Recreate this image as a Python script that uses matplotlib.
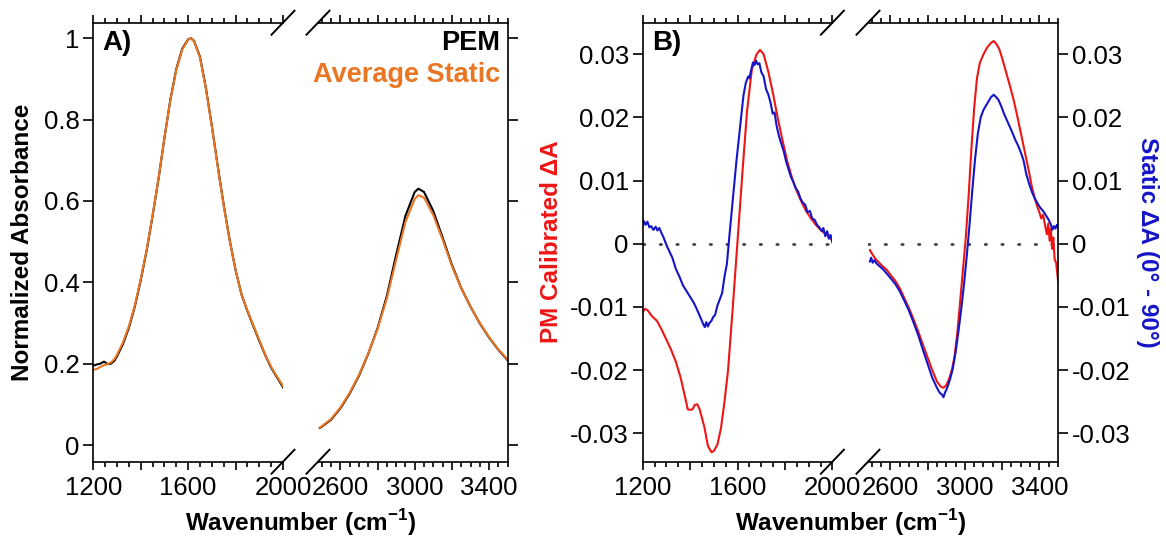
"""Two-panel IR comparison (PEM vs static) with broken wavenumber axes."""

import matplotlib.pyplot as plt
from matplotlib.ticker import FixedLocator, FuncFormatter, MultipleLocator

plt.rcParams["font.family"] = ["Liberation Sans", "DejaVu Sans"]
plt.rcParams["mathtext.fontset"] = "custom"
plt.rcParams["mathtext.rm"] = "Liberation Sans"
plt.rcParams["mathtext.bf"] = "Liberation Sans:bold"

# ---- panel A: normalized absorbance ----
wn_a_low = [1200, 1215, 1230, 1245, 1260, 1275, 1290, 1300, 1325, 1350, 1375, 1400,
            1425, 1450, 1475, 1500, 1525, 1550, 1575, 1600, 1612, 1625, 1650, 1675,
            1700, 1725, 1750, 1775, 1800, 1825, 1850, 1875, 1900, 1925, 1950, 1975, 2000]
static_low = [0.185, 0.187, 0.192, 0.196, 0.199, 0.203, 0.212, 0.222, 0.252, 0.292, 0.343,
              0.408, 0.480, 0.565, 0.655, 0.755, 0.848, 0.922, 0.972, 0.996, 1.000, 0.992,
              0.952, 0.875, 0.782, 0.683, 0.588, 0.503, 0.430, 0.370, 0.330, 0.294, 0.258,
              0.222, 0.192, 0.168, 0.145]
pem_low = [0.195, 0.198, 0.200, 0.205, 0.199, 0.200, 0.208, 0.218, 0.248, 0.288, 0.340,
           0.405, 0.478, 0.563, 0.654, 0.755, 0.849, 0.924, 0.974, 0.997, 1.000, 0.993,
           0.954, 0.877, 0.784, 0.685, 0.590, 0.504, 0.430, 0.370, 0.329, 0.292, 0.256,
           0.221, 0.190, 0.166, 0.142]

wn_a_high = [2490, 2500, 2550, 2600, 2650, 2700, 2750, 2800, 2850, 2900, 2950, 3000,
             3020, 3050, 3100, 3150, 3200, 3250, 3300, 3350, 3400, 3450, 3500]
static_high = [0.043, 0.046, 0.064, 0.092, 0.128, 0.172, 0.225, 0.285, 0.360, 0.455, 0.548,
               0.605, 0.614, 0.608, 0.565, 0.505, 0.440, 0.385, 0.340, 0.300, 0.265, 0.235,
               0.210]
pem_high = [0.042, 0.045, 0.062, 0.090, 0.126, 0.170, 0.224, 0.287, 0.366, 0.467, 0.563,
            0.622, 0.630, 0.622, 0.575, 0.510, 0.443, 0.386, 0.340, 0.299, 0.264, 0.234,
            0.208]

# ---- panel B: difference spectra ----
wn_pm_low = [1200, 1210, 1220, 1240, 1260, 1280, 1300, 1320, 1340, 1360, 1380, 1390, 1400,
             1410, 1420, 1430, 1440, 1460, 1475, 1490, 1500, 1515, 1530, 1545, 1560, 1580,
             1600, 1620, 1640, 1660, 1680, 1695, 1710, 1730, 1750, 1770, 1790, 1810, 1830,
             1850, 1870, 1890, 1910, 1930, 1950, 1970, 1985, 2000]
pm_low = [-0.0108, -0.0103, -0.0105, -0.0115, -0.0122, -0.0136, -0.0152, -0.0168, -0.0187,
          -0.0212, -0.0245, -0.0262, -0.0263, -0.0262, -0.0255, -0.0254, -0.0262, -0.0290,
          -0.0320, -0.0330, -0.0328, -0.0318, -0.0292, -0.0250, -0.0200, -0.0100, 0.0005,
          0.0110, 0.0210, 0.0275, 0.0300, 0.0307, 0.0300, 0.0272, 0.0237, 0.0198, 0.0163,
          0.0130, 0.0104, 0.0083, 0.0066, 0.0051, 0.0040, 0.0030, 0.0022, 0.0016, 0.0012,
          0.0005]

wn_st_low = [1200, 1205, 1212, 1220, 1228, 1236, 1245, 1255, 1262, 1270, 1278, 1288, 1296,
             1305, 1315, 1325, 1340, 1355, 1370, 1385, 1400, 1415, 1430, 1445, 1455, 1462,
             1468, 1475, 1482, 1490, 1497, 1505, 1515, 1525, 1535, 1545, 1555, 1565, 1575,
             1585, 1595, 1605, 1615, 1625, 1635, 1645, 1650, 1658, 1665, 1672, 1678, 1685,
             1692, 1700, 1710, 1720, 1730, 1740, 1748, 1756, 1765, 1775, 1785, 1795, 1805,
             1815, 1825, 1835, 1845, 1855, 1865, 1875, 1885, 1895, 1905, 1915, 1925, 1935,
             1945, 1955, 1962, 1970, 1978, 1985, 1992, 2000]
st_low = [0.0028, 0.0036, 0.0030, 0.0035, 0.0026, 0.0028, 0.0022, 0.0027, 0.0021, 0.0025,
          0.0018, 0.0010, 0.0002, -0.0006, -0.0014, -0.0022, -0.0040, -0.0052, -0.0066,
          -0.0075, -0.0084, -0.0093, -0.0105, -0.0118, -0.0127, -0.0132, -0.0124, -0.0131,
          -0.0125, -0.0122, -0.0116, -0.0113, -0.0098, -0.0088, -0.0078, -0.0052, -0.0032,
          0.0010, 0.0050, 0.0090, 0.0130, 0.0165, 0.0200, 0.0235, 0.0255, 0.0265, 0.0262,
          0.0276, 0.0287, 0.0283, 0.0290, 0.0284, 0.0286, 0.0272, 0.0265, 0.0245, 0.0236,
          0.0222, 0.0206, 0.0208, 0.0186, 0.0170, 0.0158, 0.0146, 0.0130, 0.0118, 0.0106,
          0.0098, 0.0088, 0.0083, 0.0072, 0.0065, 0.0062, 0.0050, 0.0052, 0.0040, 0.0038,
          0.0030, 0.0026, 0.0020, 0.0025, 0.0012, 0.0020, 0.0008, 0.0014, 0.0002]

wn_pm_high = [2490, 2500, 2520, 2540, 2560, 2580, 2600, 2625, 2650, 2675, 2700, 2725, 2750,
              2775, 2800, 2825, 2850, 2870, 2885, 2900, 2915, 2930, 2945, 2960, 2975, 2990,
              3005, 3020, 3035, 3050, 3065, 3080, 3100, 3120, 3140, 3155, 3170, 3185, 3200,
              3220, 3240, 3260, 3280, 3300, 3320, 3340, 3360, 3375, 3390, 3400, 3410, 3420,
              3430, 3440, 3448, 3455, 3462, 3468, 3475, 3482, 3490, 3500]
pm_high = [-0.0010, -0.0015, -0.0024, -0.0030, -0.0036, -0.0041, -0.0049, -0.0058, -0.0070,
           -0.0086, -0.0102, -0.0120, -0.0139, -0.0160, -0.0180, -0.0200, -0.0218, -0.0226,
           -0.0228, -0.0224, -0.0214, -0.0200, -0.0178, -0.0140, -0.0090, -0.0040, 0.0010,
           0.0075, 0.0150, 0.0215, 0.0262, 0.0286, 0.0300, 0.0311, 0.0318, 0.0321, 0.0316,
           0.0308, 0.0294, 0.0273, 0.0252, 0.0230, 0.0204, 0.0176, 0.0148, 0.0120, 0.0090,
           0.0072, 0.0058, 0.0050, 0.0040, 0.0046, 0.0030, 0.0015, 0.0032, 0.0005, 0.0024,
           -0.0008, 0.0010, -0.0025, -0.0030, -0.0058]

wn_st_high = [2490, 2497, 2505, 2515, 2525, 2540, 2560, 2580, 2600, 2625, 2650, 2675, 2700,
              2725, 2750, 2775, 2800, 2825, 2850, 2865, 2878, 2885, 2893, 2905, 2920, 2935,
              2950, 2965, 2980, 2995, 3010, 3025, 3040, 3055, 3070, 3085, 3100, 3120, 3140,
              3155, 3165, 3180, 3195, 3210, 3225, 3240, 3255, 3270, 3285, 3300, 3315, 3330,
              3345, 3360, 3375, 3390, 3405, 3420, 3435, 3450, 3462, 3470, 3478, 3486, 3494,
              3500]
st_high = [-0.0028, -0.0022, -0.0030, -0.0026, -0.0031, -0.0035, -0.0040, -0.0047, -0.0054,
           -0.0063, -0.0075, -0.0090, -0.0106, -0.0125, -0.0145, -0.0168, -0.0190, -0.0212,
           -0.0228, -0.0236, -0.0239, -0.0243, -0.0236, -0.0228, -0.0215, -0.0198, -0.0172,
           -0.0140, -0.0105, -0.0065, -0.0020, 0.0030, 0.0085, 0.0135, 0.0175, 0.0200,
           0.0212, 0.0222, 0.0232, 0.0236, 0.0233, 0.0228, 0.0218, 0.0206, 0.0196, 0.0186,
           0.0176, 0.0165, 0.0156, 0.0145, 0.0132, 0.0110, 0.0095, 0.0082, 0.0072, 0.0064,
           0.0057, 0.0052, 0.0045, 0.0038, 0.0030, 0.0022, 0.0028, 0.0024, 0.0030, 0.0026]

low_ticks = [1200, 1400, 1600, 1800, 2000]
low_labels = [1200, 1600, 2000]
high_ticks = [2600, 2800, 3000, 3200, 3400]
high_labels = [2600, 3000, 3400]
a_yticks = [0, 0.2, 0.4, 0.6, 0.8, 1.0]
b_yticks = [-0.03, -0.02, -0.01, 0, 0.01, 0.02, 0.03]

ORANGE = "#EA7624"
RED = "#EE1515"
BLUE = "#1515C8"

W, H = 1166, 537
TOP, BOTTOM = 22.7, 461.7


def box(x0, x1):
    return [x0 / W, 1 - BOTTOM / H, (x1 - x0) / W, (BOTTOM - TOP) / H]


def _num(v, _pos=None):
    s = f"{round(v, 4):g}"
    return "0" if s in ("0", "-0") else s


def _only(labels):
    return FuncFormatter(lambda v, _pos: f"{v:.0f}" if round(v) in labels else "")


def style(ax, side, yticks, ylim, xlim, xticks, xlabels, ylabels_right=False):
    ax.set_xlim(xlim)
    ax.set_ylim(ylim)
    ax.xaxis.set_major_locator(FixedLocator(xticks))
    ax.xaxis.set_major_formatter(_only(xlabels))
    ax.xaxis.set_minor_locator(MultipleLocator(50))
    ax.yaxis.set_major_locator(FixedLocator(yticks))
    ax.yaxis.set_major_formatter(FuncFormatter(_num))
    ax.tick_params(which="both", direction="out", width=1.2, labelsize=18.5)
    ax.tick_params(axis="x", which="major", length=6, top=True, pad=4)
    ax.tick_params(axis="x", which="minor", length=3.5, top=True)
    ax.tick_params(axis="y", which="major", length=7, pad=3)
    for sp in ax.spines.values():
        sp.set_linewidth(1.2)
    if side == "left":
        ax.spines["right"].set_visible(False)
        ax.tick_params(axis="y", left=True, right=False)
    else:
        ax.spines["left"].set_visible(False)
        ax.tick_params(axis="y", left=False, right=True, labelleft=False,
                       labelright=ylabels_right)


def break_marks(ax_l, ax_r):
    dx_l = 11.5 / (ax_l.get_position().width * W)
    dx_r = 11.5 / (ax_r.get_position().width * W)
    dy = 12 / (BOTTOM - TOP)
    kw = dict(color="black", lw=1.4, clip_on=False)
    for y in (0, 1):
        ax_l.plot([1 - dx_l, 1 + dx_l], [y - dy, y + dy], transform=ax_l.transAxes, **kw)
        ax_r.plot([-dx_r, dx_r], [y - dy, y + dy], transform=ax_r.transAxes, **kw)


fig = plt.figure(figsize=(W / 100, H / 100), dpi=100)

# panel A
axA1 = fig.add_axes(box(93.3, 283.0))
axA2 = fig.add_axes(box(318.0, 507.7))
axA1.plot(wn_a_low, pem_low, color="black", lw=1.5)
axA1.plot(wn_a_low, static_low, color=ORANGE, lw=1.5)
axA2.plot(wn_a_high, pem_high, color="black", lw=1.5)
axA2.plot(wn_a_high, static_high, color=ORANGE, lw=1.5)
style(axA1, "left", a_yticks, (-0.041, 1.038), (1200, 2000), low_ticks, low_labels)
style(axA2, "right", a_yticks, (-0.041, 1.038), (2480, 3500), high_ticks, high_labels)
break_marks(axA1, axA2)
axA1.text(0.05, 0.954, "A)", transform=axA1.transAxes, fontsize=20, fontweight="bold",
          ha="left", va="center")
axA2.text(0.96, 0.954, "PEM", transform=axA2.transAxes, fontsize=19.5,
          fontweight="bold", ha="right", va="center", color="black")
axA2.text(0.96, 0.881, "Average Static", transform=axA2.transAxes, fontsize=19.5,
          fontweight="bold", ha="right", va="center", color=ORANGE)

# panel B
axB1 = fig.add_axes(box(642.7, 832.4))
axB2 = fig.add_axes(box(868.0, 1058.0))
for ax in (axB1, axB2):
    ax.axhline(0, color="#444444", lw=2, linestyle=(0, (0.5, 5.5)),
               dash_capstyle="round", zorder=1)
axB1.plot(wn_pm_low, pm_low, color=RED, lw=1.5)
axB1.plot(wn_st_low, st_low, color=BLUE, lw=1.5)
axB2.plot(wn_pm_high, pm_high, color=RED, lw=1.5)
axB2.plot(wn_st_high, st_high, color=BLUE, lw=1.5)
style(axB1, "left", b_yticks, (-0.0345, 0.035), (1200, 2000), low_ticks, low_labels)
style(axB2, "right", b_yticks, (-0.0345, 0.035), (2480, 3500), high_ticks, high_labels,
      ylabels_right=True)
break_marks(axB1, axB2)
axB1.text(0.05, 0.954, "B)", transform=axB1.transAxes, fontsize=20, fontweight="bold",
          ha="left", va="center")

# axis titles
xlabel = r"Wavenumber (cm$^{\mathbf{-1}}$)"
fig.text(300.5 / W, 1 - 523 / H, xlabel, fontsize=17.5, fontweight="bold",
         ha="center", va="center")
fig.text(850.5 / W, 1 - 523 / H, xlabel, fontsize=17.5, fontweight="bold",
         ha="center", va="center")
fig.text(23 / W, 1 - 242 / H, "Normalized Absorbance", fontsize=17.5,
         fontweight="bold", rotation=90, ha="center", va="center")
fig.text(552 / W, 1 - 242 / H, "PM Calibrated ΔA", fontsize=17.5, fontweight="bold",
         rotation=90, ha="center", va="center", color=RED)
fig.text(1148 / W, 1 - 242 / H, "Static ΔA (0° - 90°)", fontsize=17.5,
         fontweight="bold", rotation=270, ha="center", va="center", color=BLUE)

fig.savefig("out.png", dpi=100)
